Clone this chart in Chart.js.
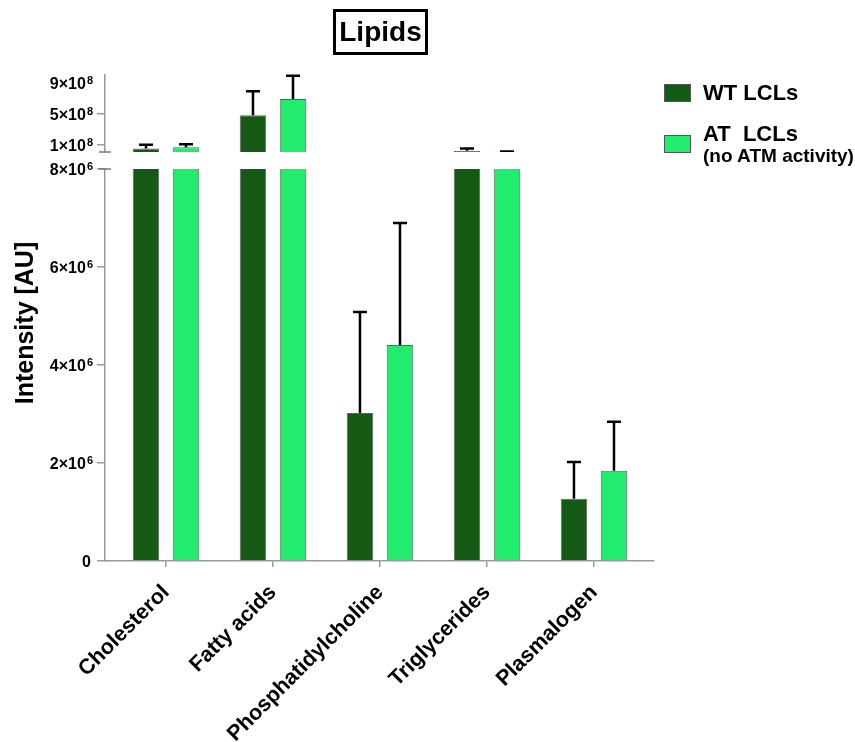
<!DOCTYPE html>
<html>
<head>
<meta charset="utf-8">
<title>Lipids</title>
<script src="https://cdn.jsdelivr.net/npm/chart.js@4.4.1/dist/chart.umd.min.js"></script>
<style>
  html, body { margin: 0; padding: 0; background: #fff; }
  #wrap { position: relative; width: 855px; height: 742px; overflow: hidden;
          font-family: "Liberation Sans", Arial, Helvetica, sans-serif; color: #000; }
  #wrap canvas { position: absolute; left: 0; top: 0; }
  #title { position: absolute; left: 333px; top: 9px; width: 89px; height: 40px;
           border: 3px solid #000; font-weight: bold; font-size: 28px; line-height: 40px;
           text-align: center; }
  #ytitle { position: absolute; left: -76px; top: 308px; width: 200px; height: 30px;
            line-height: 30px; text-align: center; font-weight: bold; font-size: 25px;
            transform: rotate(-90deg); white-space: nowrap; }
  .swatch { position: absolute; left: 664px; width: 25px; height: 16px; border: 1px solid #555; }
  .ltext { position: absolute; left: 703px; font-weight: bold; font-size: 22px; line-height: 24px; white-space: pre; }
  .lsub { font-size: 19px; line-height: 20px; display: block; }
</style>
</head>
<body>
<div id="wrap">
  <canvas id="upper" width="855" height="742"></canvas>
  <canvas id="lower" width="855" height="742"></canvas>
  <div id="title">Lipids</div>
  <div id="ytitle">Intensity [AU]</div>
  <div id="legend"></div>
</div>
<script>
// Lipid classes on the x axis
const categories = ['Cholesterol', 'Fatty acids', 'Phosphatidylcholine', 'Triglycerides', 'Plasmalogen'];

// Mean intensity and SD per lipid class
const wtMeans  = [5.3e7, 4.8e8, 3.02e6, 2.3e7, 1.27e6];
const wtErrors = [4.7e7, 3.1e8, 2.06e6, 3.0e7, 0.75e6];
const atMeans  = [7.0e7, 6.9e8, 4.41e6, 1.0e7, 1.84e6];
const atErrors = [3.8e7, 3.0e8, 2.49e6, 0.4e7, 1.0e6];

// Series labels
const seriesNames = ['WT LCLs', 'AT  LCLs'];
const seriesNotes = ['', '(no ATM activity)'];
const seriesColors = ['#145a14', '#22ec6e'];

// Broken y axis: lower segment 0..8e6, upper segment 8e6..1e9
const lowerTicks = [0, 2e6, 4e6, 6e6, 8e6];
const upperTicks = [1e8, 5e8, 9e8];
const lowerRange = [0, 8e6];
const upperRange = [8e6, 1.0e9];

const FONT = '"Liberation Sans", Arial, Helvetica, sans-serif';
Chart.defaults.font.family = FONT;
Chart.defaults.color = '#000';

const AXIS_GREY = '#9a9a9a';

function buildDatasets() {
  const means = [wtMeans, atMeans];
  const errs = [wtErrors, atErrors];
  return seriesNames.map((name, s) => ({
    label: name,
    data: means[s].map((v, i) => ({ x: i, y: v })),
    errors: errs[s],
    backgroundColor: seriesColors[s],
    borderColor: 'rgba(70,70,70,0.85)',
    borderWidth: 1,
    categoryPercentage: 0.748,
    barPercentage: 0.6625
  }));
}

// SD whiskers above each bar (only where they reach into this segment)
const errorBars = {
  id: 'errorBars',
  afterDatasetsDraw(chart, args, opts) {
    const ctx = chart.ctx, area = chart.chartArea, y = chart.scales.y;
    const extra = opts.topMargin || 0;
    ctx.save();
    ctx.beginPath();
    ctx.rect(area.left, area.top - extra, area.right - area.left, area.bottom - area.top + extra);
    ctx.clip();
    ctx.strokeStyle = '#000';
    ctx.lineWidth = 2.5;
    chart.data.datasets.forEach((ds, di) => {
      const meta = chart.getDatasetMeta(di);
      meta.data.forEach((bar, i) => {
        const hi = ds.data[i].y + ds.errors[i];
        if (hi <= y.min) return;
        const top = y.getPixelForValue(hi);
        ctx.beginPath();
        ctx.moveTo(bar.x, bar.y);
        ctx.lineTo(bar.x, top);
        ctx.moveTo(bar.x - 7, top);
        ctx.lineTo(bar.x + 7, top);
        ctx.stroke();
      });
    });
    ctx.restore();
  }
};

// Short marks crossing the y axis where it is broken
const axisBreak = {
  id: 'axisBreak',
  afterDraw(chart, args, opts) {
    const ctx = chart.ctx, area = chart.chartArea;
    const yPix = opts.edge === 'top' ? area.top : area.bottom;
    ctx.save();
    ctx.strokeStyle = '#777';
    ctx.lineWidth = 1.5;
    ctx.beginPath();
    ctx.moveTo(area.left - 6, yPix);
    ctx.lineTo(area.left + 6, yPix);
    ctx.stroke();
    ctx.restore();
  }
};

// Y tick labels in a×10^n form with a raised exponent
const sciTicks = {
  id: 'sciTicks',
  afterDraw(chart) {
    const ctx = chart.ctx, s = chart.scales.y;
    const right = s.right - 12;
    ctx.save();
    ctx.fillStyle = '#000';
    ctx.textAlign = 'right';
    ctx.textBaseline = 'alphabetic';
    s.ticks.forEach(t => {
      const v = t.value;
      const base = s.getPixelForValue(v) + 6;
      if (v === 0) {
        ctx.font = 'bold 16px ' + FONT;
        ctx.fillText('0', right - 2, base);
        return;
      }
      const exp = Math.floor(Math.log10(v) + 1e-9);
      const mant = Math.round(v / Math.pow(10, exp));
      ctx.font = 'bold 11px ' + FONT;
      const ew = ctx.measureText(String(exp)).width;
      ctx.fillText(String(exp), right, base - 4.7);
      ctx.font = 'bold 16px ' + FONT;
      ctx.fillText(mant + '×10', right - ew - 1, base);
    });
    ctx.restore();
  }
};

const xMin = -0.57, xMax = 4.561;
const categoryTicks = s => { s.ticks = categories.map((c, i) => ({ value: i })); };

function yScale(range, ticks, hideTick) {
  return {
    min: range[0], max: range[1],
    afterBuildTicks: s => { s.ticks = ticks.map(v => ({ value: v })); },
    afterFit: s => { s.width = 105; },
    ticks: { display: false },
    grid: {
      drawOnChartArea: false, tickLength: 8, lineWidth: 1.5,
      color: c => (c.tick && hideTick.includes(c.tick.value)) ? 'rgba(0,0,0,0)' : AXIS_GREY
    },
    border: { color: AXIS_GREY, width: 1.5 }
  };
}

// Upper segment
new Chart(document.getElementById('upper'), {
  type: 'bar',
  data: { datasets: buildDatasets() },
  options: {
    responsive: false, animation: false,
    layout: { padding: { top: 75, bottom: 590, left: 0, right: 201 } },
    plugins: { legend: { display: false }, tooltip: { enabled: false },
               errorBars: { topMargin: 6 }, axisBreak: { edge: 'bottom' } },
    scales: {
      x: { type: 'linear', min: xMin, max: xMax, offset: false, grid: { offset: false },
           afterBuildTicks: categoryTicks, display: false },
      y: yScale(upperRange, upperTicks, [9e8])
    }
  },
  plugins: [errorBars, axisBreak, sciTicks]
});

// Lower segment with the category axis
new Chart(document.getElementById('lower'), {
  type: 'bar',
  data: { datasets: buildDatasets() },
  options: {
    responsive: false, animation: false,
    layout: { padding: { top: 169, bottom: 0, left: 0, right: 201 } },
    plugins: { legend: { display: false }, tooltip: { enabled: false },
               errorBars: { topMargin: 0 }, axisBreak: { edge: 'top' } },
    scales: {
      x: {
        type: 'linear', min: xMin, max: xMax, position: 'bottom', offset: false,
        afterBuildTicks: categoryTicks,
        afterFit: s => { s.height = 181; },
        ticks: { autoSkip: false, minRotation: 45, maxRotation: 45,
                 callback: v => categories[v], font: { size: 21.5, weight: 'bold' }, color: '#000', padding: 13 },
        grid: { offset: false, drawOnChartArea: false, tickLength: 6, lineWidth: 1.5, color: AXIS_GREY },
        border: { color: AXIS_GREY, width: 1.5 }
      },
      y: yScale(lowerRange, lowerTicks, [])
    }
  },
  plugins: [errorBars, axisBreak, sciTicks]
});

// Legend built from the series definitions
const legendEl = document.getElementById('legend');
const legendTops = [84, 135];
const textTops = [81, 122];
seriesNames.forEach((name, s) => {
  const sw = document.createElement('div');
  sw.className = 'swatch';
  sw.style.top = legendTops[s] + 'px';
  sw.style.background = seriesColors[s];
  legendEl.appendChild(sw);
  const tx = document.createElement('div');
  tx.className = 'ltext';
  tx.style.top = textTops[s] + 'px';
  tx.textContent = name;
  if (seriesNotes[s]) {
    const sub = document.createElement('span');
    sub.className = 'lsub';
    sub.textContent = seriesNotes[s];
    tx.appendChild(sub);
  }
  legendEl.appendChild(tx);
});
</script>
</body>
</html>
